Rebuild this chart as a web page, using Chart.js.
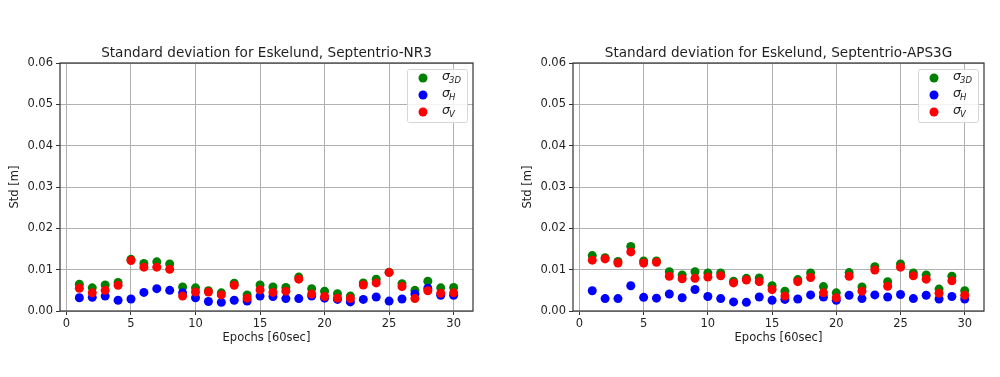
<!DOCTYPE html>
<html>
<head>
<meta charset="utf-8">
<script src="https://cdn.jsdelivr.net/npm/chart.js@4/dist/chart.umd.min.js"></script>
<style>
  html, body { margin: 0; padding: 0; background: #fff; }
  #wrap { position: relative; width: 1000px; height: 377px; }
  .box { position: absolute; top: 0; height: 377px; width: 500px; }
</style>
</head>
<body>
<div id="wrap">
  <div class="box" style="left:0"><canvas id="chart-nr3"></canvas></div>
  <div class="box" style="left:500px"><canvas id="chart-aps3g"></canvas></div>
</div>
<script>
const epochs = [1,2,3,4,5,6,7,8,9,10,11,12,13,14,15,16,17,18,19,20,21,22,23,24,25,26,27,28,29,30];
const xTicks = [0, 5, 10, 15, 20, 25, 30];
const yTicks = [0, 0.01, 0.02, 0.03, 0.04, 0.05, 0.06];

// Septentrio-NR3
const nr3_3d = [0.0065,0.0056,0.0063,0.0069,0.0125,0.0115,0.0119,0.0114,0.0058,0.0056,0.0049,0.0044,0.0067,0.0039,0.0063,
                0.0058,0.0057,0.0082,0.0054,0.0048,0.0042,0.0036,0.0068,0.0077,0.0094,0.0066,0.0050,0.0072,0.0056,0.0057];
const nr3_h  = [0.0032,0.0033,0.0036,0.0026,0.0029,0.0045,0.0054,0.0050,0.0044,0.0032,0.0023,0.0021,0.0026,0.0024,0.0036,
                0.0035,0.0030,0.0030,0.0036,0.0031,0.0028,0.0022,0.0028,0.0034,0.0024,0.0029,0.0041,0.0055,0.0038,0.0038];
const nr3_v  = [0.0055,0.0044,0.0050,0.0062,0.0122,0.0106,0.0106,0.0101,0.0036,0.0046,0.0046,0.0039,0.0062,0.0031,0.0051,
                0.0045,0.0048,0.0077,0.0041,0.0035,0.0031,0.0030,0.0063,0.0068,0.0093,0.0059,0.0030,0.0049,0.0043,0.0044];

// Septentrio-APS3G
const aps_3d = [0.0134,0.0129,0.0120,0.0156,0.0121,0.0121,0.0095,0.0087,0.0095,0.0092,0.0092,0.0072,0.0079,0.0080,0.0061,
                0.0048,0.0076,0.0092,0.0059,0.0044,0.0093,0.0058,0.0107,0.0071,0.0114,0.0092,0.0087,0.0053,0.0084,0.0049];
const aps_h  = [0.0049,0.0030,0.0030,0.0061,0.0033,0.0031,0.0041,0.0032,0.0052,0.0035,0.0030,0.0022,0.0021,0.0034,0.0026,
                0.0028,0.0029,0.0039,0.0034,0.0026,0.0038,0.0030,0.0039,0.0034,0.0040,0.0030,0.0038,0.0029,0.0035,0.0029];
const aps_v  = [0.0123,0.0126,0.0116,0.0143,0.0116,0.0118,0.0084,0.0078,0.0079,0.0082,0.0085,0.0068,0.0075,0.0071,0.0052,
                0.0036,0.0071,0.0081,0.0044,0.0032,0.0084,0.0048,0.0099,0.0060,0.0106,0.0085,0.0077,0.0043,0.0073,0.0038];

const seriesStyle = [
  { key: '3D', color: '#008000' },
  { key: 'H',  color: '#0000ff' },
  { key: 'V',  color: '#ff0000' },
];

const FONT = '"DejaVu Sans", sans-serif';
const TEXT = '#1f1f1f';

// frame, title and legend (sigma with subscripts) drawn around the plot area
const decor = {
  id: 'decor',
  afterDraw(chart, args, opts) {
    const { ctx, chartArea: a } = chart;
    ctx.save();
    ctx.strokeStyle = '#333';
    ctx.lineWidth = 1.2;
    ctx.strokeRect(a.left, a.top, a.right - a.left, a.bottom - a.top);

    ctx.fillStyle = TEXT;
    ctx.font = `13.6px ${FONT}`;
    ctx.textAlign = 'center';
    ctx.textBaseline = 'middle';
    ctx.fillText(opts.title, (a.left + a.right) / 2, a.top - 10);

    const w = 60, h = 53;
    const bx = a.right - 6 - w, by = a.top + 6;
    ctx.fillStyle = 'rgba(255,255,255,0.85)';
    ctx.strokeStyle = '#d6d6d6';
    ctx.lineWidth = 1;
    ctx.beginPath();
    ctx.roundRect(bx + 0.5, by + 0.5, w, h, 2);
    ctx.fill();
    ctx.stroke();
    seriesStyle.forEach((s, i) => {
      const cy = by + 9 + i * 17;
      ctx.fillStyle = s.color;
      ctx.beginPath();
      ctx.arc(bx + 16, cy, 4.5, 0, Math.PI * 2);
      ctx.fill();
      ctx.fillStyle = TEXT;
      ctx.textAlign = 'left';
      ctx.font = `italic 12.5px ${FONT}`;
      ctx.fillText('σ', bx + 35, cy - 1);
      ctx.font = `italic 8.5px ${FONT}`;
      ctx.fillText(s.key, bx + 42, cy + 3);
    });
    ctx.restore();
  }
};

function makeChart(id, title, v3d, vh, vv, axisWidth, yTitlePad, rightPad) {
  const sets = [v3d, vh, vv];
  new Chart(document.getElementById(id).getContext('2d'), {
    type: 'scatter',
    data: {
      datasets: seriesStyle.map((s, i) => ({
        label: s.key,
        data: epochs.map((e, j) => ({ x: e, y: sets[i][j] })),
        backgroundColor: s.color,
        borderColor: s.color,
        borderWidth: 0,
        pointRadius: 4.5,
        order: 3 - i,
      })),
    },
    options: {
      responsive: false, animation: false,
      layout: { padding: { top: 63, right: rightPad, left: 0, bottom: 0 } },
      plugins: {
        legend: { display: false },
        tooltip: { enabled: false },
        decor: { title },
      },
      scales: {
        x: {
          type: 'linear', min: -0.5, max: 31.5,
          afterBuildTicks: s => { s.ticks = xTicks.map(v => ({ value: v })); },
          afterFit: s => { s.height = 66; },
          grid: { color: '#b0b0b0', lineWidth: 1, tickLength: 4, tickColor: '#333' },
          border: { display: false },
          ticks: { color: TEXT, font: { family: FONT, size: 11.5 }, padding: 2, maxRotation: 0 },
          title: { display: true, text: 'Epochs [60sec]', color: TEXT, font: { family: FONT, size: 11.5 }, padding: { top: 0, bottom: 32 } },
        },
        y: {
          min: 0, max: 0.06,
          afterBuildTicks: s => { s.ticks = yTicks.map(v => ({ value: v })); },
          afterFit: s => { s.width = axisWidth; },
          grid: { color: '#b0b0b0', lineWidth: 1, tickLength: 4, tickColor: '#333' },
          border: { display: false },
          ticks: { color: TEXT, font: { family: FONT, size: 11.5 }, padding: 3, callback: v => v.toFixed(2) },
          title: { display: true, text: 'Std [m]', color: TEXT, font: { family: FONT, size: 11.5 }, padding: { top: yTitlePad, bottom: 0 } },
        },
      },
    },
    plugins: [decor],
  });
}

function sizeCanvas(id) {
  const c = document.getElementById(id);
  c.width = 500; c.height = 377;
  c.style.width = '500px'; c.style.height = '377px';
}
sizeCanvas('chart-nr3');
sizeCanvas('chart-aps3g');
makeChart('chart-nr3', 'Standard deviation for Eskelund, Septentrio-NR3', nr3_3d, nr3_h, nr3_v, 60, 8, 27);
makeChart('chart-aps3g', 'Standard deviation for Eskelund, Septentrio-APS3G', aps_3d, aps_h, aps_v, 73, 21, 16);
</script>
</body>
</html>
